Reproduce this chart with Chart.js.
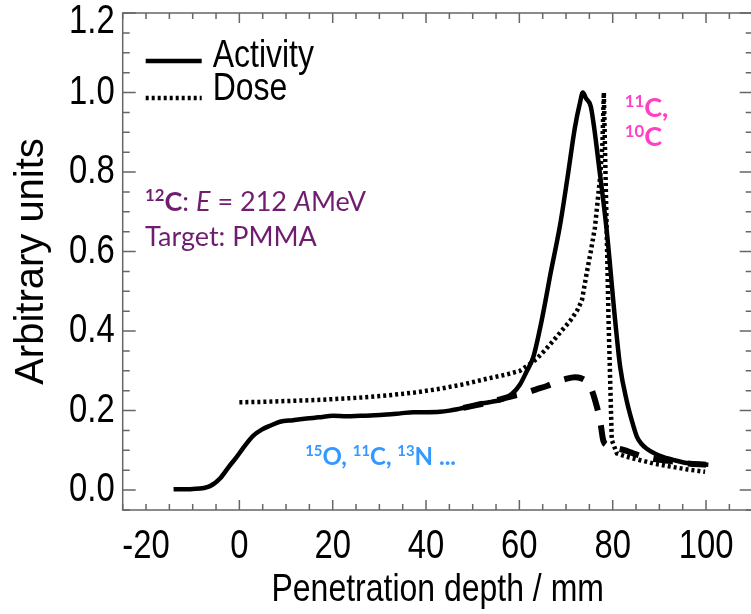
<!DOCTYPE html>
<html>
<head>
<meta charset="utf-8">
<script src="https://cdn.jsdelivr.net/npm/chart.js@4/dist/chart.umd.min.js"></script>
<style>
  html, body { margin: 0; padding: 0; background: #fff; overflow: hidden; }
  #wrap { width: 760px; height: 614px; }
</style>
</head>
<body>
<div id="wrap"><canvas id="chart" width="760" height="614"></canvas></div>
<script>
// total activity (solid)
const actDepth = [-14.1, -10, -6.3, -4.1, -2.3, -0.6, 1.2, 3.0, 4.8, 6.6, 8.7, 11.5, 14.4, 17, 20.1, 23, 25.9, 29, 31.6, 34.5, 37.3, 40, 43, 45, 47.3, 49.5, 51.6, 54, 56.6, 58.5, 60.1, 61.5, 63, 64.4, 65.5, 66.6, 68.7, 70.3, 71.9, 73, 73.6, 74.3, 75.3, 76.1, 76.9, 78.7, 80.5, 81.6, 83, 84.1, 85.2, 86.2, 87.3, 89, 90.9, 93.3, 95.9, 98, 100.5];
const actValue = [0.002, 0.003, 0.010, 0.030, 0.058, 0.083, 0.112, 0.137, 0.152, 0.162, 0.172, 0.176, 0.180, 0.183, 0.187, 0.186, 0.187, 0.188, 0.190, 0.193, 0.196, 0.196, 0.197, 0.200, 0.205, 0.210, 0.217, 0.222, 0.229, 0.243, 0.265, 0.297, 0.335, 0.405, 0.470, 0.540, 0.665, 0.785, 0.912, 0.975, 1.0, 0.985, 0.965, 0.905, 0.83, 0.655, 0.43, 0.31, 0.225, 0.175, 0.134, 0.116, 0.104, 0.092, 0.083, 0.075, 0.068, 0.066, 0.064];

// 15O / 13N ... contribution (dashed)
const partDepth = [48, 50, 54, 57, 59, 61.2, 63.5, 65.9, 68, 69.8, 71.9, 73.3, 74.4, 75.4, 76.2, 77.3, 78.0, 79, 80.5, 82.3, 84.5, 86.6, 90.1, 93, 96, 100];
const partValue = [0.207, 0.212, 0.222, 0.232, 0.238, 0.244, 0.253, 0.262, 0.272, 0.279, 0.284, 0.281, 0.273, 0.255, 0.227, 0.175, 0.124, 0.112, 0.106, 0.101, 0.092, 0.084, 0.076, 0.072, 0.067, 0.064];

// dose (dotted)
const doseDepth = [0, 5, 10, 17.3, 25, 31.6, 38, 43, 48, 53, 57, 60.1, 62, 63.7, 65.5, 67.3, 69, 70.9, 72.3, 73.4, 74.4, 75.3, 76.2, 77.3, 77.8, 78.1, 79.1, 79.8, 80.9, 83, 85, 88.7, 92, 96, 99.8];
const doseValue = [0.221, 0.222, 0.224, 0.227, 0.232, 0.238, 0.246, 0.255, 0.266, 0.280, 0.290, 0.300, 0.315, 0.330, 0.352, 0.376, 0.400, 0.426, 0.450, 0.477, 0.544, 0.600, 0.661, 0.787, 0.870, 1.0, 0.433, 0.126, 0.092, 0.084, 0.078, 0.067, 0.060, 0.052, 0.046];

const xTicks = [-20, 0, 20, 40, 60, 80, 100];
const yTicks = [0, 0.2, 0.4, 0.6, 0.8, 1.0, 1.2];

const toXY = (xs, ys) => xs.map((x, i) => ({x: x, y: ys[i]}));

const sans = '"Liberation Sans", Arial, sans-serif';

// text notes, placed in data coordinates
const notes = [
  {x: -20.2, y: 0.726, size: 27, color: '#6f1e6f',
   segs: [{t: '12', sup: 1, b: 1}, {t: 'C', b: 1}, {t: ': '}, {t: 'E', i: 1}, {t: ' = 212 '}, {t: 'A', i: 1}, {t: 'MeV'}]},
  {x: -20.2, y: 0.638, size: 27, color: '#6f1e6f', segs: [{t: 'Target: PMMA'}]},
  {x: 82.6, y: 0.963, size: 27, color: '#ff3fc4', segs: [{t: '11', sup: 1, b: 1}, {t: 'C,', b: 1}]},
  {x: 82.6, y: 0.889, size: 27, color: '#ff3fc4', segs: [{t: '10', sup: 1, b: 1}, {t: 'C', b: 1}]},
  {x: 14.1, y: 0.085, size: 24, color: '#3399ff',
   segs: [{t: '15', sup: 1, b: 1}, {t: 'O, ', b: 1}, {t: '11', sup: 1, b: 1}, {t: 'C, ', b: 1}, {t: '13', sup: 1, b: 1}, {t: 'N ...', b: 1}]}
];

function drawRich(ctx, x, y, segs, size, color) {
  let cx = x;
  ctx.fillStyle = color;
  ctx.textBaseline = 'alphabetic';
  ctx.textAlign = 'left';
  segs.forEach(s => {
    const fs = s.sup ? size * 0.62 : size;
    ctx.font = (s.i ? 'italic ' : '') + (s.b ? 'bold ' : '') + fs + 'px Lato, "Open Sans", sans-serif';
    ctx.fillText(s.t, cx, y - (s.sup ? size * 0.36 : 0));
    cx += ctx.measureText(s.t).width;
  });
}

// tall, narrow lettering like the original plot
function drawNarrow(ctx, text, x, y, size, align) {
  ctx.save();
  ctx.translate(x, y);
  ctx.scale(0.82, 1);
  ctx.font = size + 'px ' + sans;
  ctx.fillStyle = '#000';
  ctx.textAlign = align;
  ctx.textBaseline = 'middle';
  ctx.fillText(text, 0, 0);
  ctx.restore();
}

// box with inward ticks on all four sides, plus the tick labels
const framePlugin = {
  id: 'frame',
  afterDraw(chart) {
    const ctx = chart.ctx, a = chart.chartArea;
    const xs = chart.scales.x, ys = chart.scales.y;
    ctx.save();
    ctx.strokeStyle = '#666';
    ctx.lineWidth = 1.5;
    ctx.strokeRect(a.left, a.top, a.right - a.left, a.bottom - a.top);
    ctx.beginPath();
    for (let v = -25; v <= 110; v += 5) {
      const px = xs.getPixelForValue(v);
      const len = (v % 20 === 0 && v >= 0) ? 10 : 6;
      ctx.moveTo(px, a.bottom); ctx.lineTo(px, a.bottom - len);
      ctx.moveTo(px, a.top); ctx.lineTo(px, a.top + len);
    }
    for (let k = -1; k <= 24; k++) {
      const py = ys.getPixelForValue(k * 0.05);
      const len = (k % 4 === 0) ? 13 : 7;
      ctx.moveTo(a.left, py); ctx.lineTo(a.left + len, py);
      ctx.moveTo(a.right, py); ctx.lineTo(a.right - len, py);
    }
    ctx.stroke();
    ctx.restore();

    xs.ticks.forEach(t => {
      drawNarrow(ctx, String(t.value), xs.getPixelForValue(t.value), a.bottom + 37, 40, 'center');
    });
    ys.ticks.forEach(t => {
      const py = Math.max(ys.getPixelForValue(t.value), a.top + 9);
      drawNarrow(ctx, t.value.toFixed(1), a.left - 8, py, 40, 'right');
    });
    drawNarrow(ctx, 'Penetration depth / mm', (a.left + a.right) / 2, a.bottom + 80, 39, 'center');
  }
};

const legendPlugin = {
  id: 'lineLegend',
  afterDraw(chart) {
    const ctx = chart.ctx, a = chart.chartArea;
    ctx.save();
    let row = 0;
    chart.data.datasets.forEach(ds => {
      if (!ds.label) return;
      const ty = a.top + 43 + row * 33;
      const ly = a.top + 48 + row * 37;
      ctx.strokeStyle = '#000';
      ctx.lineWidth = ds.borderWidth;
      ctx.setLineDash(ds.borderDash || []);
      ctx.beginPath();
      ctx.moveTo(a.left + 23, ly);
      ctx.lineTo(a.left + 79, ly);
      ctx.stroke();
      ctx.setLineDash([]);
      drawNarrow(ctx, ds.label, a.left + 90, ty, 39, 'left');
      row++;
    });
    ctx.restore();
  }
};

const notesPlugin = {
  id: 'notes',
  afterDraw(chart) {
    const ctx = chart.ctx, xs = chart.scales.x, ys = chart.scales.y;
    ctx.save();
    notes.forEach(n => {
      const px = xs.getPixelForValue(n.x);
      const py = ys.getPixelForValue(n.y) + n.size * 0.36;
      drawRich(ctx, px, py, n.segs, n.size, n.color);
    });
    ctx.restore();
  }
};

new Chart(document.getElementById('chart'), {
  type: 'line',
  data: {
    datasets: [
      {
        label: 'Activity',
        data: toXY(actDepth, actValue),
        borderColor: '#000',
        borderWidth: 4.5,
        pointRadius: 0,
        cubicInterpolationMode: 'monotone',
        fill: false
      },
      {
        label: '',
        data: toXY(partDepth, partValue),
        borderColor: '#000',
        borderWidth: 6,
        borderDash: [20, 15],
        pointRadius: 0,
        cubicInterpolationMode: 'monotone',
        fill: false
      },
      {
        label: 'Dose',
        data: toXY(doseDepth, doseValue),
        borderColor: '#000',
        borderWidth: 4.5,
        borderDash: [3, 3],
        pointRadius: 0,
        tension: 0,
        fill: false
      }
    ]
  },
  options: {
    responsive: false,
    animation: false,
    devicePixelRatio: 1,
    layout: {padding: {left: 0, top: 13, right: 7.3, bottom: 0}},
    plugins: {legend: {display: false}, tooltip: {enabled: false}},
    scales: {
      x: {
        type: 'linear',
        min: -25,
        max: 110,
        grid: {display: false, drawTicks: false},
        border: {display: false},
        ticks: {display: false},
        afterBuildTicks: s => { s.ticks = xTicks.map(v => ({value: v})); },
        afterFit: s => { s.height = 104; s.paddingLeft = 0; s.paddingRight = 0; }
      },
      y: {
        type: 'linear',
        min: -0.05,
        max: 1.2,
        grid: {display: false, drawTicks: false},
        border: {display: false},
        ticks: {display: false},
        afterBuildTicks: s => { s.ticks = yTicks.map(v => ({value: v})); },
        afterFit: s => { s.width = 122.7; s.paddingTop = 0; s.paddingBottom = 0; },
        title: {display: true, text: 'Arbitrary units', font: {family: sans, size: 40}, color: '#000', padding: {top: 8, bottom: 0}}
      }
    }
  },
  plugins: [framePlugin, legendPlugin, notesPlugin]
});
</script>
</body>
</html>
